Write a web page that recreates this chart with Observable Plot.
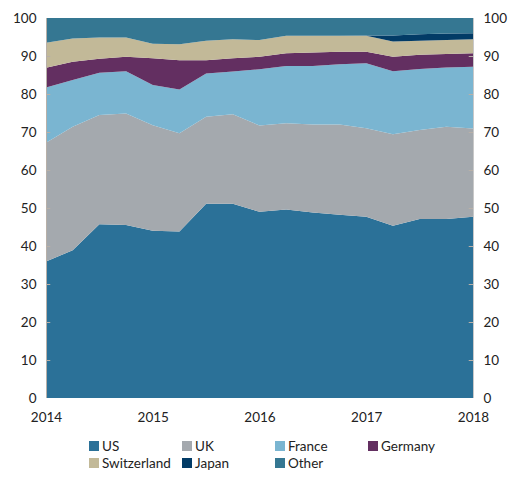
<!DOCTYPE html>
<html>
<head>
<meta charset="utf-8">
<script src="https://cdn.jsdelivr.net/npm/d3@7"></script>
<script src="https://cdn.jsdelivr.net/npm/@observablehq/plot@0.6"></script>
<style>
  body { margin: 0; background: #fff; font-family: Lato, "Open Sans", sans-serif; }
  #chart { width: 513px; }
  .legend { display: grid; grid-template-columns: 93px 93px 93px 93px; margin-left: 89px; margin-top: 10px; row-gap: 1px; font-size: 13.5px; color: #222; }
  .legend div { display: flex; align-items: center; white-space: nowrap; }
  .legend span.sw { width: 10px; height: 10px; display: inline-block; margin-right: 3px; }
</style>
</head>
<body>
<div id="chart"></div>
<script>
const dates = [2014, 2014.25, 2014.5, 2014.75, 2015, 2015.25, 2015.5, 2015.75, 2016, 2016.25, 2016.5, 2016.75, 2017, 2017.25, 2017.5, 2017.75, 2018];
const seriesNames = ["US", "UK", "France", "Germany", "Switzerland", "Japan", "Other"];
const colors = ["#2b7198", "#a4a9ae", "#7ab5d1", "#632f61", "#c2b998", "#023b66", "#357792"];
const us          = [35.9, 38.9, 45.7, 45.5, 44.0, 43.8, 51.1, 51.1, 49.0, 49.6, 48.8, 48.2, 47.7, 45.3, 47.1, 47.1, 47.7];
const uk          = [31.3, 32.5, 28.8, 29.4, 27.8, 25.9, 22.9, 23.6, 22.7, 22.7, 23.2, 23.8, 23.3, 24.1, 23.4, 24.3, 23.2];
const france      = [14.5, 12.3, 11.1, 11.1, 10.6, 11.5, 11.4, 11.2, 14.8, 15.1, 15.4, 15.8, 17.1, 16.6, 16.1, 15.6, 16.3];
const germany     = [5.2, 4.8, 3.7, 3.8, 7.0, 7.7, 3.5, 3.5, 3.3, 3.3, 3.5, 3.3, 3.0, 3.8, 3.7, 3.5, 3.5];
const switzerland = [6.6, 6.1, 5.6, 5.1, 3.8, 4.2, 5.1, 5.0, 4.4, 4.6, 4.4, 4.2, 4.2, 4.0, 3.7, 3.7, 3.7];
const japan       = [0, 0, 0, 0, 0, 0, 0, 0, 0, 0, 0, 0, 0.1, 1.6, 1.7, 1.7, 1.6];
const yTicks = [0, 10, 20, 30, 40, 50, 60, 70, 80, 90, 100];
const xTicks = [2014, 2015, 2016, 2017, 2018];

const known = [us, uk, france, germany, switzerland, japan];
const other = dates.map((d, i) => Math.max(0, 100 - known.reduce((s, a) => s + a[i], 0)));
const allSeries = [...known, other];

const rows = [];
seriesNames.forEach((name, k) => {
  dates.forEach((d, i) => rows.push({date: d, series: name, value: allSeries[k][i]}));
});

const plot = Plot.plot({
  width: 513,
  height: 428,
  marginTop: 18,
  marginBottom: 30,
  marginLeft: 46,
  marginRight: 40,
  style: {fontFamily: "Lato, 'Open Sans', sans-serif", fontSize: "13.5px", color: "#222"},
  x: {domain: [2014, 2018]},
  y: {domain: [0, 100]},
  color: {domain: seriesNames, range: colors},
  marks: [
    Plot.areaY(rows, Plot.stackY({x: "date", y: "value", z: "series", fill: "series", order: seriesNames, curve: "linear"})),
    Plot.axisY({anchor: "left", ticks: yTicks, tickSize: 0, tickPadding: 10, label: null, tickFormat: d => d}),
    Plot.axisY({anchor: "right", ticks: yTicks, tickSize: 0, tickPadding: 10, label: null, tickFormat: d => d}),
    Plot.ruleY(yTicks.slice(1, -1), {y: d => d, x1: 2014, x2: 2014.04, stroke: "#b8b0a8", strokeWidth: 1}),
    Plot.ruleY(yTicks.slice(1, -1), {y: d => d, x1: 2017.96, x2: 2018, stroke: "#b8b0a8", strokeWidth: 1}),
    Plot.ruleX([2014], {stroke: "#b8b0a8", strokeWidth: 1}),
    Plot.ruleX([2018], {stroke: "#c8c8c8", strokeWidth: 1}),
    Plot.axisX({ticks: xTicks, tickSize: 0, tickPadding: 14, label: null, tickFormat: d => String(d)})
  ]
});
document.getElementById("chart").appendChild(plot);

const legend = document.createElement("div");
legend.className = "legend";
seriesNames.forEach((name, k) => {
  const item = document.createElement("div");
  const sw = document.createElement("span");
  sw.className = "sw";
  sw.style.background = colors[k];
  item.appendChild(sw);
  item.appendChild(document.createTextNode(name));
  legend.appendChild(item);
});
document.getElementById("chart").appendChild(legend);
</script>
</body>
</html>
